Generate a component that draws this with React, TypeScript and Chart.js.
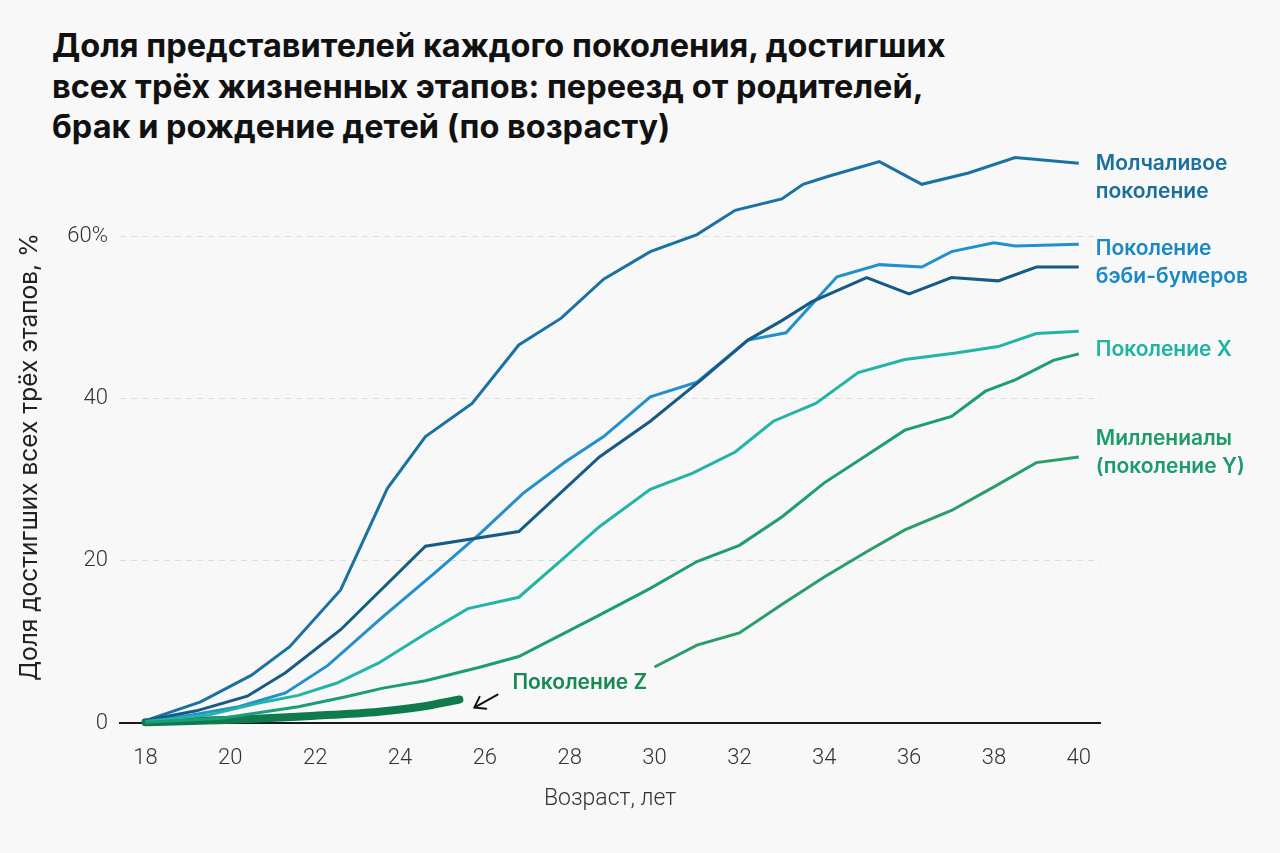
import React, { useEffect, useRef } from 'react';
import { Chart, registerables } from 'chart.js';

Chart.register(...registerables);

// tick labels
const ageTicks = [18, 20, 22, 24, 26, 28, 30, 32, 34, 36, 38, 40];
const shareTicks = [0, 20, 40, 60];

// series: age (years) and share (%)
const silentAges = [18, 19.3, 20.5, 21.4, 22.6, 23.7, 24.6, 25.7, 26.8, 27.8, 28.8, 29.9, 31.0, 31.9, 33.0, 33.5, 34.1, 35.3, 36.3, 37.4, 38.5, 40];
const silentShare = [0.3, 2.6, 5.9, 9.4, 16.4, 28.9, 35.3, 39.4, 46.6, 49.9, 54.7, 58.1, 60.2, 63.2, 64.6, 66.4, 67.4, 69.2, 66.4, 67.8, 69.7, 69.0];

const boomerAges = [18, 19.1, 20.2, 21.3, 22.3, 23.6, 24.8, 25.9, 26.9, 27.9, 28.8, 29.9, 31.0, 32.2, 33.1, 34.3, 35.3, 36.3, 37.0, 38.0, 38.5, 40];
const boomerShare = [0.2, 1.0, 2.0, 3.7, 7.1, 13.1, 18.4, 23.4, 28.3, 32.2, 35.3, 40.2, 42.0, 47.2, 48.1, 55.0, 56.5, 56.2, 58.1, 59.2, 58.8, 59.0];

const lateBoomerAges = [18, 19.2, 20.4, 21.3, 22.6, 24.6, 26.8, 28.7, 29.9, 31.1, 32.2, 33.0, 33.7, 35.0, 36.0, 37.0, 38.1, 39.0, 40];
const lateBoomerShare = [0.3, 1.5, 3.3, 6.2, 11.5, 21.8, 23.6, 32.8, 37.2, 42.3, 47.2, 49.6, 51.9, 54.9, 52.9, 54.9, 54.5, 56.2, 56.2];

const genXAges = [18, 19.5, 20.8, 21.6, 22.5, 23.5, 24.6, 25.6, 26.8, 27.9, 28.7, 29.9, 30.9, 31.9, 32.8, 33.8, 34.8, 35.9, 37.1, 38.1, 39.0, 40];
const genXShare = [0.2, 1.0, 2.6, 3.4, 4.9, 7.4, 11.0, 14.1, 15.5, 20.5, 24.2, 28.8, 30.8, 33.4, 37.2, 39.4, 43.2, 44.8, 45.6, 46.4, 48.0, 48.3];

const lateGenXAges = [18, 19.8, 21.6, 22.7, 23.6, 24.6, 25.9, 26.8, 28.7, 29.9, 31.0, 32.0, 33.0, 34.0, 35.0, 35.9, 37.0, 37.8, 38.5, 39.4, 40];
const lateGenXShare = [0.1, 0.6, 2.0, 3.2, 4.3, 5.2, 6.9, 8.2, 13.3, 16.6, 19.9, 21.9, 25.4, 29.6, 33.0, 36.1, 37.8, 40.9, 42.3, 44.7, 45.5];

const millennialAges = [30.0, 31.0, 32.0, 33.0, 34.0, 35.0, 35.9, 37.0, 38.0, 39.0, 40];
const millennialShare = [6.9, 9.6, 11.1, 14.6, 18.0, 21.1, 23.8, 26.2, 29.1, 32.1, 32.8];

const genZAges = [18, 20, 22, 23.5, 24.5, 25.4];
const genZShare = [0.1, 0.4, 0.9, 1.4, 2.0, 2.9];

// right-hand labels
const endLabels = [
  ['Молчаливое', 'поколение'],
  ['Поколение', 'бэби-бумеров'],
  ['Поколение X'],
  ['Миллениалы', '(поколение Y)'],
];
const endLabelShares = [69.0, 58.5, 46.0, 35.1];
const endLabelColors = ['#1b6f9d', '#1a88c4', '#1fb3a3', '#1d9b6b'];

const genZLabel = 'Поколение Z';
const yTitle = 'Доля достигших всех трёх этапов, %';

const toPoints = (ages: number[], share: number[]) => ages.map((a, i) => ({ x: a, y: share[i] }));

const annotations = {
  id: 'annotations',
  afterDatasetsDraw(chart: any) {
    const { ctx, scales, chartArea } = chart;
    const x = scales.x;
    const y = scales.y;
    ctx.save();

    // y axis title
    ctx.save();
    ctx.translate(chartArea.left - 90, (chartArea.top + chartArea.bottom) / 2 + 22);
    ctx.rotate(-Math.PI / 2);
    ctx.font = '400 24.5px Inter';
    ctx.fillStyle = '#222';
    ctx.textAlign = 'center';
    ctx.textBaseline = 'middle';
    ctx.fillText(yTitle, 0, 0);
    ctx.restore();

    ctx.font = '600 21px Inter';
    ctx.textBaseline = 'middle';
    ctx.textAlign = 'left';
    endLabels.forEach((lines, i) => {
      ctx.fillStyle = endLabelColors[i];
      lines.forEach((t, j) => {
        ctx.fillText(t, x.getPixelForValue(40.4), y.getPixelForValue(endLabelShares[i]) + j * 28);
      });
    });

    ctx.fillStyle = '#178953';
    ctx.fillText(genZLabel, x.getPixelForValue(26.65), y.getPixelForValue(5.0));

    // arrow pointing at the end of the Gen Z line
    const x1 = x.getPixelForValue(26.3);
    const y1 = y.getPixelForValue(3.5);
    const x2 = x.getPixelForValue(25.75);
    const y2 = y.getPixelForValue(1.9);
    const ang = Math.atan2(y2 - y1, x2 - x1);
    ctx.strokeStyle = '#111';
    ctx.lineWidth = 2;
    ctx.lineCap = 'round';
    ctx.lineJoin = 'round';
    ctx.beginPath();
    ctx.moveTo(x1, y1);
    ctx.lineTo(x2, y2);
    ctx.moveTo(x2 + 12 * Math.cos(ang + Math.PI - 0.6), y2 + 12 * Math.sin(ang + Math.PI - 0.6));
    ctx.lineTo(x2, y2);
    ctx.lineTo(x2 + 12 * Math.cos(ang + Math.PI + 0.6), y2 + 12 * Math.sin(ang + Math.PI + 0.6));
    ctx.stroke();
    ctx.restore();
  },
};

const line = (data: { x: number; y: number }[], color: string, width = 3) => ({
  data,
  borderColor: color,
  backgroundColor: color,
  borderWidth: width,
  pointRadius: 0,
  tension: 0,
  clip: false as const,
});

const GenerationsChart = () => {
  const chartRef = useRef<HTMLCanvasElement>(null);
  const chartInstance = useRef<Chart | null>(null);

  useEffect(() => {
    const ctx = chartRef.current?.getContext('2d');
    if (!ctx) return;

    chartInstance.current = new Chart(ctx, {
      type: 'line',
      data: {
        datasets: [
          line(toPoints(millennialAges, millennialShare), '#2a9d6a'),
          line(toPoints(lateGenXAges, lateGenXShare), '#1d9c7a'),
          line(toPoints(genXAges, genXShare), '#22b5a6'),
          line(toPoints(lateBoomerAges, lateBoomerShare), '#175a83'),
          line(toPoints(boomerAges, boomerShare), '#2190cc'),
          line(toPoints(silentAges, silentShare), '#1b72a2'),
          {
            ...line(toPoints(genZAges, genZShare), '#0f7a4c', 8),
            tension: 0.4,
            cubicInterpolationMode: 'monotone' as const,
            borderCapStyle: 'round' as const,
          },
        ],
      },
      options: {
        responsive: false,
        animation: false,
        layout: { padding: { left: 0, right: 180, top: 147, bottom: 0 } },
        plugins: {
          legend: { display: false },
          tooltip: { enabled: false },
        },
        scales: {
          x: {
            type: 'linear',
            min: 17.4,
            max: 40.5,
            afterBuildTicks: (scale: any) => {
              scale.ticks = ageTicks.map((v) => ({ value: v }));
            },
            afterFit: (scale: any) => {
              scale.height = 130;
            },
            grid: { display: false },
            border: { display: true, color: '#1a1a1a', width: 2 },
            ticks: {
              color: '#333',
              padding: 14,
              font: { family: 'Roboto, sans-serif', size: 22, weight: 300 },
            },
            title: {
              display: true,
              text: 'Возраст, лет',
              color: '#333',
              font: { family: 'Roboto, sans-serif', size: 23, weight: 300 },
              padding: { top: 0, bottom: 40 },
            },
          },
          y: {
            min: 0,
            max: 71,
            afterBuildTicks: (scale: any) => {
              scale.ticks = shareTicks.map((v) => ({ value: v }));
            },
            afterFit: (scale: any) => {
              scale.width = 120;
            },
            grid: { color: '#dcdcdc', lineWidth: 1, drawTicks: false },
            border: { display: false, dash: [6, 5] },
            ticks: {
              color: '#333',
              padding: 12,
              font: { family: 'Roboto, sans-serif', size: 22, weight: 300 },
              callback: (v: any) => (v === 60 ? '60%' : String(v)),
            },
          },
        },
      },
      plugins: [annotations],
    });

    return () => {
      if (chartInstance.current) {
        chartInstance.current.destroy();
        chartInstance.current = null;
      }
    };
  }, []);

  return (
    <div style={{ position: 'fixed', left: 0, top: 0, width: 1280, height: 853, background: '#f8f8f8' }}>
      <div
        style={{
          position: 'absolute',
          left: 52,
          top: 26,
          fontFamily: 'Inter, sans-serif',
          fontWeight: 700,
          fontSize: 32.5,
          lineHeight: '40.5px',
          color: '#111',
          whiteSpace: 'nowrap',
        }}
      >
        <div>Доля представителей каждого поколения, достигших</div>
        <div>всех трёх жизненных этапов: переезд от родителей,</div>
        <div>брак и рождение детей (по возрасту)</div>
      </div>
      <canvas ref={chartRef} width={1280} height={853} style={{ position: 'absolute', left: 0, top: 0 }} />
    </div>
  );
};

export default function App() {
  return <GenerationsChart />;
}
